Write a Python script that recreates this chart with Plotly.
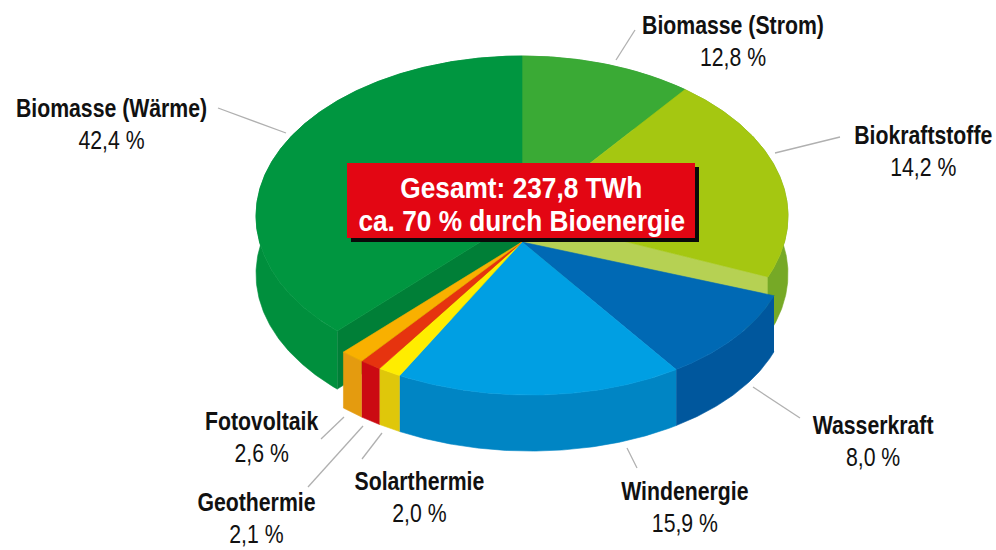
import numpy as np
import plotly.graph_objects as go

# Data (clockwise from 12 o'clock)
names = ["Biomasse (Strom)", "Biokraftstoffe", "Wasserkraft", "Windenergie",
         "Solarthermie", "Geothermie", "Fotovoltaik", "Biomasse (Wärme)"]
shares = [12.8, 14.2, 8.0, 15.9, 2.0, 2.1, 2.6, 42.4]
share_labels = ["12,8 %", "14,2 %", "8,0 %", "15,9 %", "2,0 %", "2,1 %", "2,6 %", "42,4 %"]
box_lines = ["Gesamt: 237,8 TWh", "ca. 70 % durch Bioenergie"]

# The illustration does not draw sweeps strictly proportional to the shares
sweep_factor = [0.82, 1.459, 1.247, 1.097, 0.694, 0.62, 0.545, 0.891]

top_colors = ["#3aaa35", "#a5c711", "#0069b4", "#009fe3", "#ffed00", "#e6330f", "#f9b000", "#009640"]
side_colors = ["#2f9a2f", "#76a926", "#00579d", "#0085c4", "#dfc70a", "#cb0a12", "#e49b0f", "#008f3d"]
wall_colors = {1: "#b6d153", 7: "#007f37"}

CX = 522
HIGH = dict(cy=216, rx=266, a=0, b=160, h=58)
LOW = dict(cy=242, rx=266, a=5, b=153, h=56)
LOW_ROT = -3.7
FONT = "Liberation Sans, Arial, sans-serif"


def rim(th, g):
    r = np.radians(th)
    return CX + g["rx"] * np.sin(r), g["cy"] - g["b"] * np.cos(r) + g["a"] * np.sin(r)


def arc(t0, t1):
    return np.linspace(t0, t1, max(int(abs(t1 - t0) * 2), 2))


sweeps = np.array(shares) * 3.6 * np.array(sweep_factor)
starts = np.concatenate([[0], np.cumsum(sweeps[:-1])])
ends = starts + sweeps
spans = []
for i in range(len(names)):
    if i == 7:
        spans.append((360 - sweeps[i], 360.0, HIGH))
    elif i < 2:
        spans.append((starts[i], ends[i], HIGH))
    else:
        spans.append((starts[i] + LOW_ROT, ends[i] + LOW_ROT, LOW))

fig = go.Figure()


def poly(x, y, color, name):
    fig.add_trace(go.Scatter(x=list(x), y=list(y), mode="lines", fill="toself", fillcolor=color,
                             line=dict(color=color, width=0.6), name=name, hoverinfo="name",
                             showlegend=False))


def draw_group(idx, g):
    for i in idx:  # inner walls
        if i in wall_colors:
            th = spans[i][1] if i == 1 else spans[i][0]
            ex, ey = rim(th, g)
            poly([CX, ex, ex, CX], [g["cy"], ey, ey + g["h"], g["cy"] + g["h"]], wall_colors[i], names[i])
    for i in idx:  # outer sides
        t = arc(spans[i][0], spans[i][1])
        x, y = rim(t, g)
        poly(np.r_[x, x[::-1]], np.r_[y, y[::-1] + g["h"]], side_colors[i], names[i])
    for i in idx:  # top faces
        t = arc(spans[i][0], spans[i][1])
        x, y = rim(t, g)
        poly(np.r_[CX, x, CX], np.r_[g["cy"], y, g["cy"]], top_colors[i], f"{names[i]} {share_labels[i]}")


draw_group([0, 1, 7], HIGH)
draw_group([2, 3, 4, 5, 6], LOW)

label_pos = [(733, 41), (923, 151), (873, 441), (685, 507), (419, 497), (256, 518), (261, 437), (111, 124)]
annotations = [
    dict(x=px, y=py, xref="x", yref="y", text=f"<b>{n}</b><br>{s}", showarrow=False, align="center",
         font=dict(family=FONT, size=25, color="#111111"))
    for (px, py), n, s in zip(label_pos, names, share_labels)
]
for yy, line in zip((187, 220), box_lines):
    annotations.append(dict(x=521, y=yy, xref="x", yref="y", text=f"<b>{line}</b>",
                            showarrow=False, align="center", font=dict(family=FONT, size=30, color="white")))

leaders = [(616, 60, 635, 30), (775, 153, 840, 137), (218, 108, 286, 133), (753, 387, 800, 418),
           (627, 448, 637, 468), (382, 433, 362, 459), (363, 426, 308, 487), (344, 417, 321, 439)]
shapes = [dict(type="line", x0=a, y0=b, x1=c, y1=d, xref="x", yref="y",
               line=dict(color="#b0b0b0", width=1.3)) for a, b, c, d in leaders]
shapes += [
    dict(type="rect", x0=351, y0=167, x1=699, y1=242, xref="x", yref="y", fillcolor="#0a0a0a", line_width=0),
    dict(type="rect", x0=347, y0=163, x1=695, y1=238, xref="x", yref="y", fillcolor="#e30613", line_width=0),
]

fig.update_layout(
    width=996, height=550, autosize=False, showlegend=False,
    margin=dict(l=0, r=0, t=0, b=0),
    paper_bgcolor="white", plot_bgcolor="white",
    xaxis=dict(range=[0, 996], visible=False, fixedrange=True),
    yaxis=dict(range=[550, 0], visible=False, fixedrange=True),
    annotations=annotations, shapes=shapes,
)

# Narrow the real text elements horizontally, as no condensed face is installed
narrow_js = """
document.body.style.margin='0';
document.querySelectorAll('.annotation-text').forEach(function(t){
  var cx = parseFloat(t.getAttribute('x'));
  var k = t.textContent.indexOf('Bioenergie')>=0 || t.textContent.indexOf('TWh')>=0 ? 0.875 : 0.85;
  t.setAttribute('transform','translate('+cx+',0) scale('+k+',1) translate('+(-cx)+',0)');
});
"""
fig.write_html("out.html", post_script=narrow_js, config={"displayModeBar": False})
